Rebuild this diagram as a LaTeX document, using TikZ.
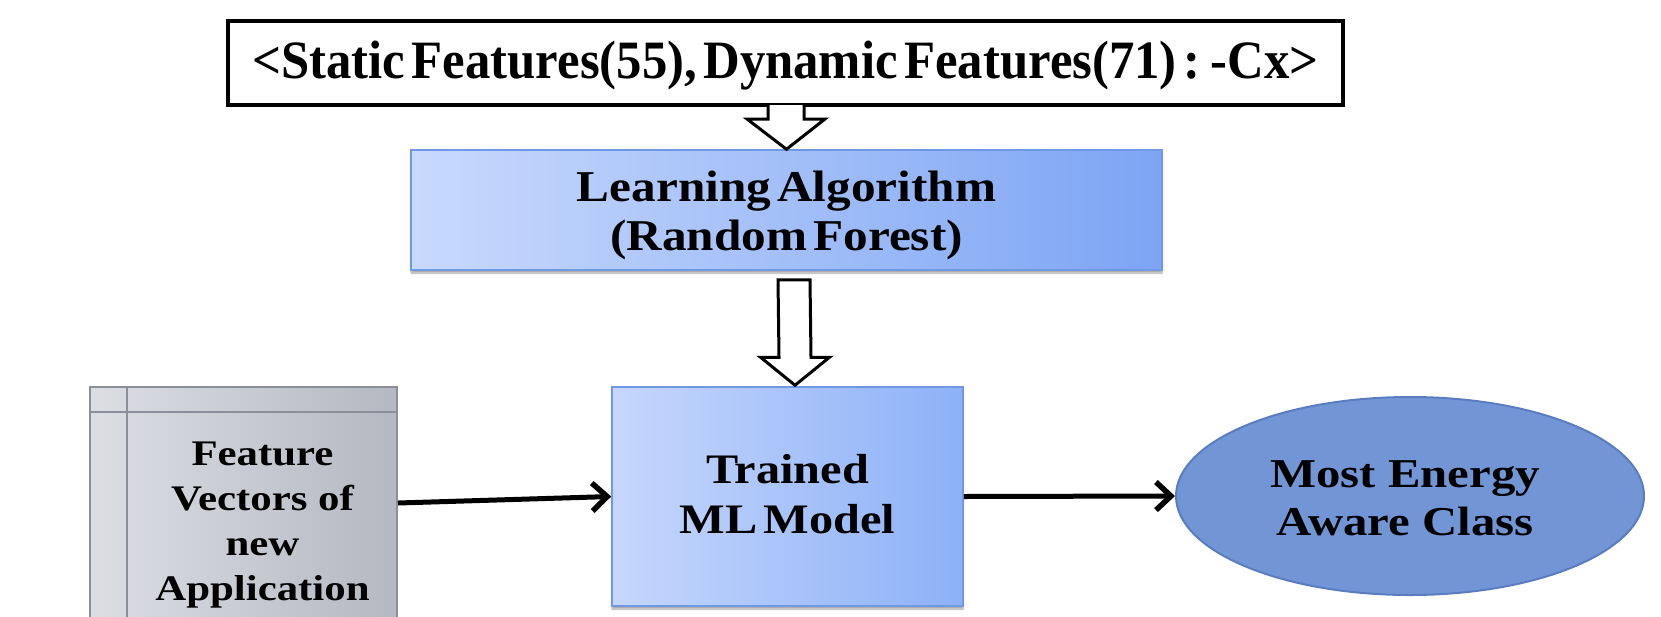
\documentclass[tikz,border=0pt]{standalone}
\usepackage{fontspec}
\setmainfont{Liberation Serif}
\newfontfamily\headfont[FakeStretch=0.94,WordSpace=0.5]{Liberation Serif}
\newfontfamily\boxfont[FakeStretch=1.12,WordSpace=0.5]{Liberation Serif}
\newfontfamily\modelfont[FakeStretch=1.15,WordSpace=0.5]{Liberation Serif}
\newfontfamily\widefont[FakeStretch=1.19]{Liberation Serif}
\usetikzlibrary{arrows.meta,calc,shapes.geometric,shadows.blur}

% centred lines, moved down by #1 without changing the box size
\newcommand\droptext[2]{\raisebox{-#1}[\height][\depth]{\begin{tabular}{@{}c@{}}#2\end{tabular}}}

\definecolor{learnL}{HTML}{C8D9FC}
\definecolor{learnM}{HTML}{BBCFFB}
\definecolor{learnR}{HTML}{7DA5F4}
\definecolor{modelL}{HTML}{C6D7FC}
\definecolor{modelR}{HTML}{8DB1F7}
\definecolor{boxedge}{HTML}{7098E4}
\definecolor{featL}{HTML}{DCDEE3}
\definecolor{featR}{HTML}{B3B8C2}
\definecolor{featedge}{HTML}{8A8F99}
\definecolor{classfill}{HTML}{7296D5}
\definecolor{classedge}{HTML}{5A7DC2}

\tikzset{
  softshadow/.style={blur shadow={shadow xshift=0pt, shadow yshift=-3pt,
      shadow blur steps=6, shadow opacity=35}},
  inputbox/.style={draw=black, line width=4pt, fill=white, inner sep=0pt,
      minimum width=1115pt, minimum height=84pt,
      font={\headfont\fontsize{54}{60}\selectfont\bfseries}},
  algobox/.style={draw=boxedge, line width=1.5pt, inner sep=0pt, softshadow,
      left color=learnL, middle color=learnM, right color=learnR,
      minimum width=751pt, minimum height=120pt,
      font={\boxfont\fontsize{44}{49}\selectfont\bfseries}},
  modelbox/.style={draw=boxedge, line width=1.5pt, inner sep=0pt, softshadow,
      left color=modelL, right color=modelR,
      minimum width=351pt, minimum height=219pt,
      font={\modelfont\fontsize{42}{50}\selectfont\bfseries}},
  storebox/.style={draw=featedge, line width=2pt, inner sep=0pt,
      left color=featL, right color=featR,
      minimum width=307pt, minimum height=266pt,
      font={\widefont\fontsize{36}{45}\selectfont\bfseries}},
  storeline/.style={draw=featedge, line width=2pt},
  classnode/.style={ellipse, draw=classedge, line width=2pt, fill=classfill,
      inner sep=0pt, minimum width=468pt, minimum height=198pt,
      font={\widefont\fontsize{41}{48}\selectfont\bfseries}},
  hollow/.style={draw=black, line width=3pt, fill=white, line join=miter},
  flow/.style={draw=black, line width=5pt,
      -{Straight Barb[length=15pt, width=28pt, line width=5.5pt]}}
}

\begin{document}
\begin{tikzpicture}[x=1pt, y=-1pt]
\useasboundingbox (0,0) rectangle (1661,616);
\clip (0,0) rectangle (1661,616);

% input feature vector
\node[inputbox] (input) at (785.5,63)
  {\droptext{3pt}{<Static Features(55), Dynamic Features(71) : -Cx>}};

% learner
\node[algobox] (learn) at (786.5,210)
  {\droptext{6pt}{Learning Algorithm\\(Random Forest)}};

% trained model
\node[modelbox] (model) at (787.5,496.5) {\droptext{2pt}{Trained\\ML Model}};

% feature vectors of the new application (internal storage shape)
\node[storebox] (feat) at (243.5,520)
  {\hspace*{38pt}\droptext{4pt}{Feature\\Vectors of\\new\\Application}};
\draw[storeline] ($(feat.north west)+(38,0)$) -- ($(feat.south west)+(38,0)$);
\draw[storeline] ($(feat.north west)+(0,26)$) -- ($(feat.north east)+(0,26)$);

% predicted class
\node[classnode] (class) at (1410,496)
  {\droptext{6pt}{Most Energy\\Aware Class}\hspace*{10pt}};

% hollow arrow from the input box into the learner
\filldraw[hollow]
  ($(input.south)+(-17.5,-2)$) -- ($(input.south)+(-17.5,12)$)
  -- ($(input.south)+(-38.5,12)$) -- (learn.north)
  -- ($(input.south)+(39.5,12)$) -- ($(input.south)+(18.5,12)$)
  -- ($(input.south)+(18.5,-2)$);

% hollow arrow from the learner to the trained model
\coordinate (tip) at ($(model.north)+(7.5,-1)$);
\filldraw[hollow]
  ($(learn.south)+(-8.5,9)$) -- ($(learn.south)+(23.5,9)$)
  -- ($(tip)+(16,-28)$) -- ($(tip)+(34.5,-28)$) -- (tip)
  -- ($(tip)+(-34.5,-28)$) -- ($(tip)+(-16,-28)$) -- cycle;

% prediction flow
\draw[flow] ($(feat.east)+(0,-17)$) -- (model.west);
\draw[flow] (model.east) -- (class.west);
\end{tikzpicture}
\end{document}
